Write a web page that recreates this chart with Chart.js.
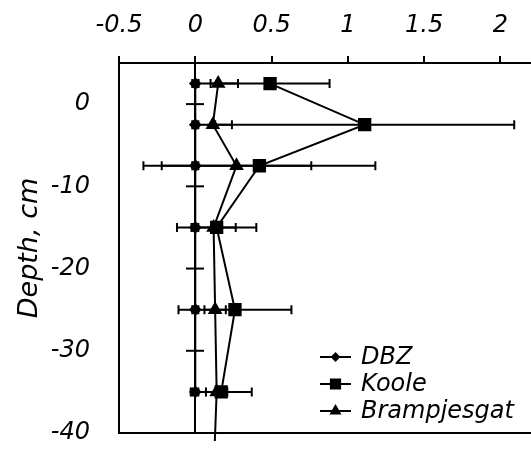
<!DOCTYPE html>
<html>
<head>
<meta charset="utf-8">
<script src="https://cdn.jsdelivr.net/npm/chart.js@4.4.1/dist/chart.umd.min.js"></script>
<style>
  html, body { margin: 0; padding: 0; background: #fff; overflow: hidden; }
  canvas { display: block; }
</style>
</head>
<body>
<canvas id="myChart1" width="531" height="450"></canvas>
<script>
// sampling depths (cm) and concentrations per site
var depths = [2.5, -2.5, -7.5, -15, -25, -35];
var dbz = [0, 0, 0, 0, 0, 0];
var dbzErr = [0.02, 0.02, 0.02, 0.02, 0.02, 0.02];
var koole = [0.49, 1.11, 0.42, 0.14, 0.26, 0.17];
var kooleErr = [0.39, 0.98, 0.76, 0.26, 0.37, 0.20];
var brampDepths = [2.5, -2.5, -7.5, -15, -25, -35, -45];
var bramp = [0.15, 0.115, 0.27, 0.12, 0.13, 0.14, 0.12];
var brampErr = [0.13, 0.125, 0.49, 0.145, 0.07, 0.07, null];

var xTicks = [-0.5, 0, 0.5, 1, 1.5, 2];
var yTicks = [0, -10, -20, -30, -40];
var yMarks = [0, -10, -20, -30];

var family = "'DejaVu Sans', Verdana, sans-serif";
var font = { family: family, size: 24, style: 'italic' };

function pts(xs, ys, errs) {
  return xs.map(function (x, i) { return { x: x, y: ys[i], err: errs[i] }; });
}

/*--error bars, zero line and depth marks--*/
var profileDecor = {
  id: 'profileDecor',
  beforeDatasetsDraw: function (chart) {
    var c = chart.ctx, xs = chart.scales.x, ys = chart.scales.y, a = chart.chartArea;
    c.save();
    c.strokeStyle = '#000';
    c.lineWidth = 2;
    // zero line
    var x0 = Math.round(xs.getPixelForValue(0));
    c.beginPath();
    c.moveTo(x0, a.top);
    c.lineTo(x0, a.bottom);
    c.stroke();
    yMarks.forEach(function (v) {
      var y = ys.getPixelForValue(v);
      c.beginPath();
      c.moveTo(x0 - 9, y);
      c.lineTo(x0 + 9, y);
      c.stroke();
    });
    // bottom frame
    c.beginPath();
    c.moveTo(a.left, a.bottom);
    c.lineTo(a.right, a.bottom);
    c.stroke();
    // horizontal error bars
    chart.data.datasets.forEach(function (ds) {
      ds.data.forEach(function (p) {
        if (p.err == null) return;
        var y = ys.getPixelForValue(p.y);
        var l = xs.getPixelForValue(p.x - p.err);
        var r = xs.getPixelForValue(p.x + p.err);
        c.beginPath();
        c.moveTo(l, y); c.lineTo(r, y);
        c.moveTo(l, y - 4.5); c.lineTo(l, y + 4.5);
        c.moveTo(r, y - 4.5); c.lineTo(r, y + 4.5);
        c.stroke();
      });
    });
    c.restore();
  },
  afterDraw: function (chart) {
    // legend in the lower right corner of the plot
    var c = chart.ctx, a = chart.chartArea;
    c.save();
    c.font = 'italic 24px ' + family;
    c.textBaseline = 'middle';
    c.fillStyle = '#000';
    chart.data.datasets.forEach(function (ds, i) {
      var y = a.bottom - 76 + i * 27;
      var x1 = a.right - 211, x2 = a.right - 180;
      c.strokeStyle = '#000';
      c.lineWidth = 2;
      c.beginPath();
      c.moveTo(x1, y); c.lineTo(x2, y);
      c.stroke();
      Chart.helpers.drawPoint(c, { pointStyle: ds.pointStyle, radius: ds.pointRadius - 1.5, rotation: 0, borderWidth: 1 }, (x1 + x2) / 2, y);
      c.fill();
      c.fillText(ds.label, a.right - 170, y + 1);
    });
    c.restore();
  }
};

var ctx = document.getElementById("myChart1").getContext('2d');
var myChart1 = new Chart(ctx, {
  type: 'scatter',
  plugins: [profileDecor],
  data: {
    datasets: [
      {
        label: 'DBZ',
        data: pts(dbz, depths, dbzErr),
        showLine: true,
        borderColor: '#000',
        backgroundColor: '#000',
        borderWidth: 2,
        pointStyle: 'rectRot',
        pointRadius: 5
      },
      {
        label: 'Koole',
        data: pts(koole, depths, kooleErr),
        showLine: true,
        borderColor: '#000',
        backgroundColor: '#000',
        borderWidth: 2,
        pointStyle: 'rect',
        pointRadius: 8
      },
      {
        label: 'Brampjesgat',
        data: pts(bramp, brampDepths, brampErr),
        showLine: true,
        borderColor: '#000',
        backgroundColor: '#000',
        borderWidth: 2,
        pointStyle: 'triangle',
        pointRadius: 6.5,
        clip: { left: 0, top: 0, right: 0, bottom: 8 }
      }
    ]
  },
  options: {
    responsive: false,
    animation: false,
    layout: { autoPadding: false, padding: { top: 0, right: 0, bottom: 17, left: 0 } },
    plugins: { legend: false, tooltip: false },
    scales: {
      x: {
        type: 'linear',
        position: 'top',
        min: -0.5,
        max: 2.2,
        afterBuildTicks: function (s) { s.ticks = xTicks.map(function (v) { return { value: v }; }); },
        afterFit: function (s) {
          s.paddingLeft = 0; s.paddingRight = 0;
          s.height = 63;
        },
        grid: { drawOnChartArea: false, color: '#000', lineWidth: 2, tickLength: 7 },
        border: { color: '#000', width: 2 },
        ticks: { color: '#000', font: font, padding: 16, maxRotation: 0,
                 callback: function (v) { return String(v); } }
      },
      y: {
        type: 'linear',
        min: -40,
        max: 5,
        afterBuildTicks: function (s) { s.ticks = yTicks.map(function (v) { return { value: v }; }); },
        afterFit: function (s) {
          s.paddingTop = 0; s.paddingBottom = 0;
          s.width = 119;
        },
        grid: { display: false, drawTicks: false },
        border: { color: '#000', width: 2 },
        ticks: { color: '#000', font: font, padding: 29 },
        title: { display: true, text: 'Depth, cm', color: '#000',
                 font: { family: family, size: 27, style: 'italic' }, padding: { top: 14, bottom: 4 } }
      }
    }
  }
});
</script>
</body>
</html>
